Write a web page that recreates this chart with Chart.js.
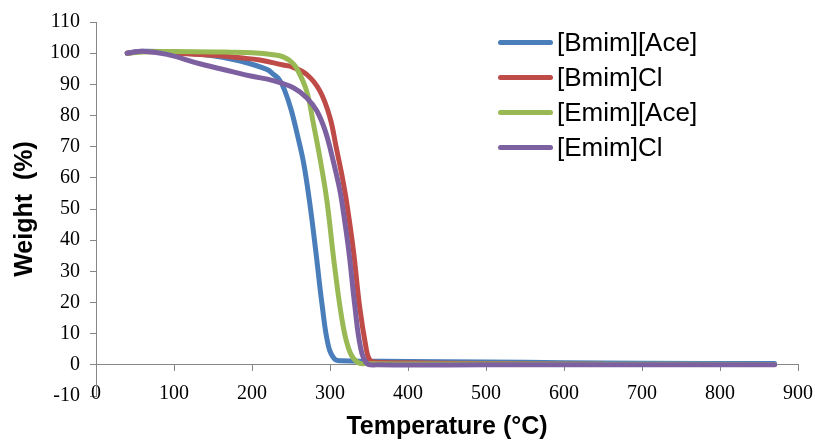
<!DOCTYPE html>
<html>
<head>
<meta charset="utf-8">
<script src="https://cdn.jsdelivr.net/npm/chart.js@4.4.1/dist/chart.umd.min.js"></script>
<style>
    body { margin: 0; background: #fff; }
    #wrap { position: relative; width: 815px; height: 440px; }
    #legend { position: absolute; left: 498px; top: 25px; margin: 0; padding: 0; list-style: none;
              font-family: 'Liberation Sans', Arial, sans-serif; font-size: 26px; color: #000; }
    #legend li { height: 35px; line-height: 35px; display: flex; align-items: center; white-space: nowrap; }
    #legend .swatch { display: inline-block; width: 55px; height: 5px; border-radius: 3px; margin-right: 4px; }
</style>
</head>
<body>
<div id="wrap">
    <canvas id="tga" width="815" height="440"></canvas>
    <ul id="legend"></ul>
</div>
<script>
    "use strict";

    // series names and colours (Excel 2007 palette)
    var seriesNames = ['[Bmim][Ace]', '[Bmim]Cl', '[Emim][Ace]', '[Emim]Cl'];
    var seriesColors = ['#4A7EBB', '#BE4B48', '#98B954', '#7D60A0'];

    // [Bmim][Ace]
    var tempBmimAce = [40, 60, 100, 150, 185, 219, 227, 235, 242, 250, 258, 266, 274, 282, 290, 298, 306, 314, 400, 500, 600, 700, 870];
    var wBmimAce = [100, 100.6, 100.3, 99.2, 97.5, 94.8, 93.3, 91.5, 88, 82, 74, 65, 52, 36, 19, 6, 1.8, 1.3, 1.1, 0.9, 0.7, 0.5, 0.4];

    // [Bmim]Cl
    var tempBmimCl = [40, 60, 100, 150, 185, 210, 240, 249, 270, 287, 300, 308, 315, 321, 330, 338, 346, 350, 356, 400, 500, 650];
    var wBmimCl = [100, 100.5, 100, 99.3, 98.5, 97.8, 96.2, 95.8, 93.2, 87.9, 79.3, 69.7, 61.2, 52.7, 36.7, 18.6, 5.8, 2, 0.9, 0.7, 0.4, 0.2];

    // [Emim][Ace]
    var tempEmimAce = [40, 60, 100, 150, 200, 230, 240, 250, 257, 270, 279, 287, 296, 306, 317, 326, 336, 345, 400, 600, 870];
    var wEmimAce = [100, 100.4, 100.5, 100.4, 100.1, 99.4, 98.8, 97.3, 95.3, 87.9, 77, 66.5, 52.7, 31.4, 12.2, 3.8, 0.7, 0.4, 0.3, 0.2, 0.1];

    // [Emim]Cl
    var tempEmimCl = [40, 60, 91, 133, 176, 200, 227, 253, 270, 283, 294, 302, 311, 315, 324, 332, 339, 347, 360, 500, 870];
    var wEmimCl = [100, 100.6, 99.6, 96.6, 94, 92.6, 91.2, 88.9, 85.7, 81.5, 75, 67.6, 58, 52.7, 36.7, 18.6, 5.8, 0.5, 0, 0, 0];

    var seriesTemps = [tempBmimAce, tempBmimCl, tempEmimAce, tempEmimCl];
    var seriesWeights = [wBmimAce, wBmimCl, wEmimAce, wEmimCl];

    var axisColor = '#868686';

    function toPoints(xs, ys) {
        var pts = [];
        for (var i = 0; i < xs.length; i++) {
            pts.push({x: xs[i], y: ys[i]});
        }
        return pts;
    }

    var datasets = seriesNames.map(function (name, i) {
        return {
            label: name,
            data: toPoints(seriesTemps[i], seriesWeights[i]),
            borderColor: seriesColors[i],
            backgroundColor: seriesColors[i],
            borderWidth: 5,
            borderCapStyle: 'round',
            borderJoinStyle: 'round',
            pointRadius: 0,
            showLine: true,
            tension: 0.4,
            // last series on top, like Excel
            order: seriesNames.length - i
        };
    });

    var tickFont = {family: "'Liberation Serif', 'Times New Roman', serif", size: 20};
    var titleFont = {family: "'Liberation Sans', Arial, sans-serif", size: 25, weight: 'bold'};

    var chart = new Chart(document.getElementById('tga'), {
        type: 'scatter',
        data: {datasets: datasets},
        options: {
            responsive: false,
            animation: false,
            devicePixelRatio: 1,
            layout: {padding: {left: 0, right: 17, top: 21, bottom: 44}},
            plugins: {
                legend: {display: false},
                tooltip: {enabled: false}
            },
            scales: {
                x: {
                    type: 'linear',
                    position: {y: 0},
                    min: 0,
                    max: 900,
                    afterFit: function (scale) {
                        // keep the plot area fixed; title sits below the labels
                        scale.paddingLeft = 0;
                        scale.paddingRight = 0;
                        scale.height = 77;
                    },
                    ticks: {stepSize: 100, color: '#000', font: tickFont, padding: 11, maxRotation: 0},
                    grid: {drawOnChartArea: false, color: axisColor, tickLength: 6},
                    border: {color: axisColor, width: 1},
                    title: {display: true, text: 'Temperature (°C)', color: '#000', font: titleFont, padding: {top: 0, bottom: 0}}
                },
                y: {
                    type: 'linear',
                    position: 'left',
                    min: -10,
                    max: 110,
                    afterFit: function (scale) { scale.width = 96; },
                    ticks: {stepSize: 10, color: '#000', font: tickFont, padding: 10},
                    grid: {drawOnChartArea: false, color: axisColor, tickLength: 6},
                    border: {color: axisColor, width: 1},
                    title: {display: true, text: 'Weight  (%)', color: '#000', font: titleFont, padding: {top: 10, bottom: 0}}
                }
            }
        }
    });

    // HTML legend built from the same series arrays
    var legendEl = document.getElementById('legend');
    chart.data.datasets.forEach(function (ds) {
        var li = document.createElement('li');
        var sw = document.createElement('span');
        sw.className = 'swatch';
        sw.style.background = ds.borderColor;
        li.appendChild(sw);
        li.appendChild(document.createTextNode(ds.label));
        legendEl.appendChild(li);
    });
</script>
</body>
</html>
